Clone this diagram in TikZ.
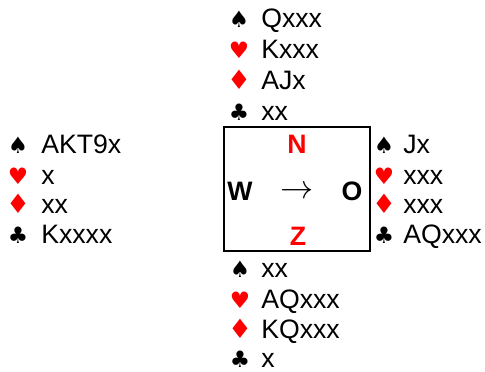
\documentclass[tikz,border=0pt]{standalone}
\usepackage{fontspec}
\setmainfont{Liberation Sans}
\newfontfamily\suitfont{DejaVu Sans}
\usetikzlibrary{positioning}
\def\schoppen{\char"2660}
\def\harten{\char"2665}
\def\ruiten{{\fontsize{20}{22}\selectfont\char"2666}}
\def\klaver{\char"2663}
\tikzset{
	kaart/.style={anchor=base west, inner sep=0pt, font=\fontsize{20}{23}\selectfont},
	kleur/.style={anchor=base, inner sep=0pt, font=\suitfont\fontsize{17}{19}\selectfont},
	wind/.style={anchor=base, inner sep=0pt, font=\bfseries\fontsize{20}{23}\selectfont}
}

\begin{document}
\begin{tikzpicture}[x=0.75pt, y=-0.75pt]
			%%%%% START %%%%%
			\useasboundingbox (0, 0) rectangle (485, 371);
			
			\node[draw, line width=1.5pt, minimum width=109.5pt, minimum height=93pt, inner sep=0pt] (tafel) at (297, 189) {};
			
			\node[wind, color=red] (noord) at (297, 153) {N};
			\node[wind] (west) at (240, 200) {W};
			\node[wind] (oost) at (352, 200) {O};
			\node[wind, color=red] (zuid) at (298, 245) {Z};
			\node[anchor=base, inner sep=0pt, font=\fontsize{24}{27}\selectfont] (pijl) at (297, 198) {$\rightarrow$};
			
			% noord
			\node[kleur] (ns) at (239, 27) {\schoppen};
			\node[kaart] (nsk) at (261, 27) {Qxxx};
			\node[kleur, color=red] (nh) at (239, 58) {\harten};
			\node[kaart] (nhk) at (261, 58) {Kxxx};
			\node[kleur, color=red] (nr) at (239, 89) {\ruiten};
			\node[kaart] (nrk) at (261, 89) {AJx};
			\node[kleur] (nk) at (239, 120) {\klaver};
			\node[kaart] (nkk) at (261, 120) {xx};
			
			% west
			\node[kleur] (ws) at (18, 153) {\schoppen};
			\node[kaart] (wsk) at (41, 153) {AKT9x};
			\node[kleur, color=red] (wh) at (18, 184) {\harten};
			\node[kaart] (whk) at (41, 184) {x};
			\node[kleur, color=red] (wr) at (18, 213) {\ruiten};
			\node[kaart] (wrk) at (41, 213) {xx};
			\node[kleur] (wk) at (18, 243) {\klaver};
			\node[kaart] (wkk) at (41, 243) {Kxxxx};
			
			% oost
			\node[kleur] (os) at (384, 153) {\schoppen};
			\node[kaart] (osk) at (403, 153) {Jx};
			\node[kleur, color=red] (oh) at (384, 184) {\harten};
			\node[kaart] (ohk) at (403, 184) {xxx};
			\node[kleur, color=red] (or) at (384, 213) {\ruiten};
			\node[kaart] (ork) at (403, 213) {xxx};
			\node[kleur] (ok) at (384, 243) {\klaver};
			\node[kaart] (okk) at (403, 243) {AQxxx};
			
			% zuid
			\node[kleur] (zs) at (240, 277) {\schoppen};
			\node[kaart] (zsk) at (261, 277) {xx};
			\node[kleur, color=red] (zh) at (240, 308) {\harten};
			\node[kaart] (zhk) at (261, 308) {AQxxx};
			\node[kleur, color=red] (zr) at (240, 338) {\ruiten};
			\node[kaart] (zrk) at (261, 338) {KQxxx};
			\node[kleur] (zk) at (240, 367) {\klaver};
			\node[kaart] (zkk) at (261, 367) {x};
			%%%%% END %%%%%
\end{tikzpicture}
\end{document}
